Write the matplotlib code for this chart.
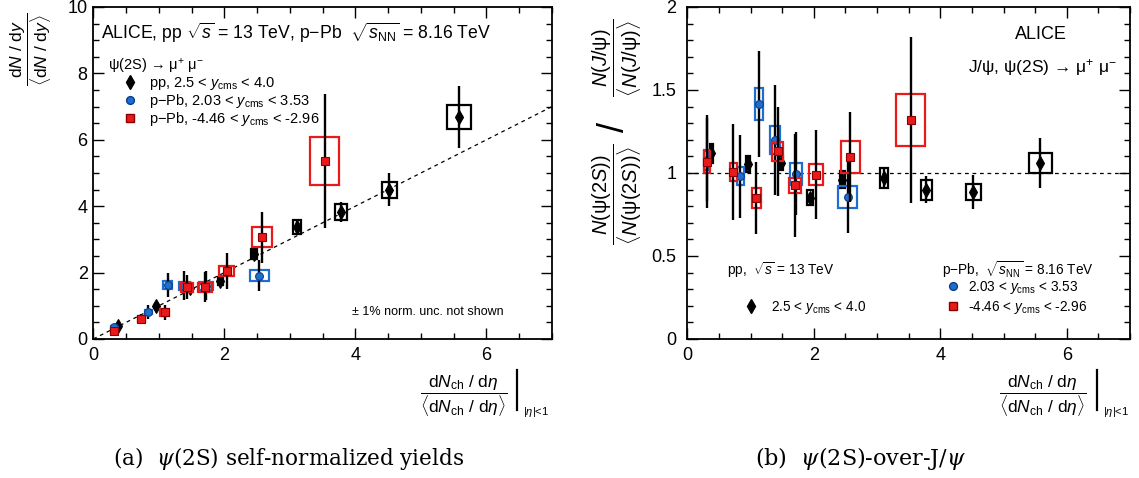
import matplotlib
matplotlib.use("Agg")
import matplotlib.pyplot as plt
from matplotlib.patches import Rectangle
from matplotlib.lines import Line2D
from matplotlib.ticker import MultipleLocator

plt.rcParams['font.family'] = ['Liberation Sans', 'DejaVu Sans']
plt.rcParams['mathtext.fontset'] = 'custom'
plt.rcParams['mathtext.rm'] = 'Liberation Sans'
plt.rcParams['mathtext.it'] = 'Liberation Sans:italic'
plt.rcParams['mathtext.bf'] = 'Liberation Sans:bold'

# ---------------- data ----------------
# pp 13 TeV, 2.5 < y < 4.0
pp_x = [0.38, 0.96, 1.48, 1.94, 2.45, 3.11, 3.78, 4.52, 5.58]
pp_xsys = [0.02, 0.025, 0.03, 0.04, 0.042, 0.062, 0.086, 0.118, 0.184]
pp_yield = [0.40, 1.00, 1.55, 1.76, 2.56, 3.37, 3.83, 4.50, 6.69]
pp_yield_stat = [0.08, 0.10, 0.10, 0.15, 0.15, 0.22, 0.30, 0.49, 0.93]
pp_yield_sys = [0.04, 0.06, 0.08, 0.12, 0.14, 0.20, 0.25, 0.24, 0.37]
pp_ratio = [1.12, 1.055, 1.06, 0.85, 0.96, 0.97, 0.90, 0.885, 1.06]
pp_ratio_stat = [0.06, 0.04, 0.03, 0.03, 0.04, 0.06, 0.08, 0.10, 0.15]
pp_ratio_sys = [0.057, 0.05, 0.04, 0.045, 0.05, 0.06, 0.06, 0.048, 0.058]

# p-Pb 8.16 TeV, forward 2.03 < y < 3.53
fw_x = [0.31, 0.84, 1.135, 1.387, 1.72, 2.535]
fw_xsys = [0.04, 0.053, 0.07, 0.085, 0.10, 0.15]
fw_yield = [0.35, 0.81, 1.63, 1.61, 1.61, 1.91]
fw_yield_stat = [0.07, 0.20, 0.36, 0.43, 0.45, 0.47]
fw_yield_sys = [0.05, 0.06, 0.125, 0.12, 0.12, 0.16]
fw_ratio = [1.08, 0.98, 1.415, 1.198, 0.995, 0.856]
fw_ratio_stat = [0.25, 0.25, 0.32, 0.33, 0.25, 0.22]
fw_ratio_sys = [0.06, 0.055, 0.095, 0.085, 0.065, 0.068]

# p-Pb 8.16 TeV, backward -4.46 < y < -2.96
bw_x = [0.315, 0.73, 1.09, 1.43, 1.705, 2.035, 2.58, 3.53]
bw_xsys = [0.045, 0.053, 0.07, 0.085, 0.10, 0.117, 0.153, 0.225]
bw_yield = [0.23, 0.60, 0.80, 1.56, 1.56, 2.05, 3.07, 5.36]
bw_yield_stat = [0.08, 0.16, 0.22, 0.36, 0.45, 0.55, 0.77, 2.03]
bw_yield_sys = [0.085, 0.10, 0.10, 0.13, 0.13, 0.145, 0.29, 0.71]
bw_ratio = [1.067, 1.007, 0.85, 1.13, 0.925, 0.99, 1.095, 1.32]
bw_ratio_stat = [0.28, 0.29, 0.215, 0.27, 0.31, 0.27, 0.27, 0.50]
bw_ratio_sys = [0.065, 0.055, 0.058, 0.055, 0.045, 0.062, 0.097, 0.156]

line_x = [0, 7]
ratio_ref = 1.0

BLUE = '#1e6ed2'
BLUE_DARK = '#0b3d86'
RED = '#ea1a1a'
RED_DARK = '#8a0000'

MS_D, MS_O, MS_S = 7, 5.6, 5.6

fig = plt.figure(figsize=(11.39, 4.78), dpi=100)
axL = fig.add_axes([0.0819, 0.2908, 0.4027, 0.6946])
axR = fig.add_axes([0.6034, 0.2908, 0.3887, 0.6946])


def draw(ax, x, xs, y, ys, st, color, edge, box, marker, ms, z):
    for xi, wi, yi, hi in zip(x, xs, y, ys):
        ax.add_patch(Rectangle((xi - wi, yi - hi), 2 * wi, 2 * hi, fill=False,
                               ec=box, lw=1.6, zorder=z))
    ax.errorbar(x, y, yerr=st, fmt=marker, ms=ms, mfc=color, mec=edge, mew=0.8,
                ecolor='black', elinewidth=1.7, capsize=0, zorder=z + 0.5)


def style(ax, ymaj, ymin, ypad):
    ax.set_xlim(0, 7)
    ax.xaxis.set_major_locator(MultipleLocator(2))
    ax.xaxis.set_minor_locator(MultipleLocator(0.5))
    ax.yaxis.set_major_locator(MultipleLocator(ymaj))
    ax.yaxis.set_minor_locator(MultipleLocator(ymin))
    ax.tick_params(which='both', direction='in', top=True, right=True,
                   labelsize=13, width=1.0)
    ax.tick_params(which='major', length=8)
    ax.tick_params(which='minor', length=4.5)
    ax.tick_params(axis='x', pad=6)
    ax.tick_params(axis='y', pad=ypad)
    for s in ax.spines.values():
        s.set_linewidth(1.3)


# ---------- left panel ----------
axL.plot(line_x, line_x, ls=(0, (3, 3)), color='black', lw=0.9, zorder=1)
draw(axL, pp_x, pp_xsys, pp_yield, pp_yield_sys, pp_yield_stat, 'black', 'black', 'black', 'd', MS_D, 2)
draw(axL, fw_x, fw_xsys, fw_yield, fw_yield_sys, fw_yield_stat, BLUE, BLUE_DARK, BLUE, 'o', MS_O, 3)
draw(axL, bw_x, bw_xsys, bw_yield, bw_yield_sys, bw_yield_stat, RED, RED_DARK, RED, 's', MS_S, 4)
axL.set_ylim(0, 10)
style(axL, 2, 0.5, 4)

axL.text(0.017, 0.922, r'ALICE, pp $\sqrt{s}$ = 13 TeV, p$-$Pb  $\sqrt{s_{\rm NN}}$ = 8.16 TeV',
         transform=axL.transAxes, fontsize=12.7, ha='left', va='center')
hL = [Line2D([], [], marker='d', ls='none', color='black', ms=MS_D),
      Line2D([], [], marker='o', ls='none', mfc=BLUE, mec=BLUE_DARK, ms=MS_O),
      Line2D([], [], marker='s', ls='none', mfc=RED, mec=RED_DARK, ms=MS_S)]
labL = [r'pp, 2.5 < $y_{\rm cms}$ < 4.0',
        r'p$-$Pb, 2.03 < $y_{\rm cms}$ < 3.53',
        r'p$-$Pb, -4.46 < $y_{\rm cms}$ < -2.96']
axL.text(0.032, 0.822, r'ψ(2S) → μ$^{+}$ μ$^{-}$', transform=axL.transAxes,
         fontsize=10.5, ha='left', va='center')
legL = axL.legend(hL, labL, loc='upper left',
                  bbox_to_anchor=(0.060, 0.796), frameon=False, fontsize=10.5,
                  borderpad=0, borderaxespad=0, handlelength=1.2,
                  handletextpad=0.75, labelspacing=0.02)
axL.text(0.565, 0.081, '± 1% norm. unc. not shown', transform=axL.transAxes,
         fontsize=9, ha='left', va='center')

# ---------- right panel ----------
axR.axhline(ratio_ref, ls=(0, (3, 3)), color='black', lw=0.9, zorder=1)
draw(axR, pp_x, pp_xsys, pp_ratio, pp_ratio_sys, pp_ratio_stat, 'black', 'black', 'black', 'd', MS_D, 2)
draw(axR, fw_x, fw_xsys, fw_ratio, fw_ratio_sys, fw_ratio_stat, BLUE, BLUE_DARK, BLUE, 'o', MS_O, 3)
draw(axR, bw_x, bw_xsys, bw_ratio, bw_ratio_sys, bw_ratio_stat, RED, RED_DARK, RED, 's', MS_S, 4)
axR.set_ylim(0, 2)
style(axR, 0.5, 0.1, 8)
axR.set_yticks([0, 0.5, 1, 1.5, 2])
axR.set_yticklabels(['0', '0.5', '1', '1.5', '2'])

axR.text(0.799, 0.916, 'ALICE', transform=axR.transAxes, fontsize=13,
         ha='center', va='center')
axR.text(0.9706, 0.819, r'J/ψ, ψ(2S) → μ$^{+}$ μ$^{-}$', transform=axR.transAxes,
         fontsize=12.5, ha='right', va='center')
axR.text(0.0897, 0.208, r'pp,  $\sqrt{s}$ = 13 TeV', transform=axR.transAxes,
         fontsize=9.8, ha='left', va='center')
legpp = axR.legend([hL[0]], [r'2.5 < $y_{\rm cms}$ < 4.0'], loc='center left',
                   bbox_to_anchor=(0.128, 0.096), frameon=False, fontsize=9.8,
                   borderpad=0, borderaxespad=0, handlelength=1.0, handletextpad=1.0)
axR.add_artist(legpp)
legpb = axR.legend(hL[1:], [r'2.03 < $y_{\rm cms}$ < 3.53', r'-4.46 < $y_{\rm cms}$ < -2.96'],
                   loc='upper left',
                   bbox_to_anchor=(0.585, 0.180), frameon=False, fontsize=9.8,
                   borderpad=0, borderaxespad=0, handlelength=1.0,
                   handletextpad=0.6, labelspacing=0.2)
axR.text(0.575, 0.208, r'p$-$Pb,  $\sqrt{s_{\rm NN}}$ = 8.16 TeV', transform=axR.transAxes,
         fontsize=9.8, ha='left', va='center')

# ---------- axis titles ----------
fig.text(31 / 1139, 1 - 49 / 478,
         r'$\dfrac{{\rm d}N\ /\ {\rm d}y}{\langle{\rm d}N\ /\ {\rm d}y\rangle}$',
         rotation=90, fontsize=12.5, ha='center', va='center')

fig.text(617 / 1139, 1 - 194 / 478,
         r'$\dfrac{N(\mathrm{\psi}(2S))}{\langle N(\mathrm{\psi}(2S))\rangle}$',
         rotation=90, fontsize=14.5, ha='center', va='center')
fig.text(615 / 1139, 1 - 127 / 478, '/', rotation=90, fontsize=26,
         ha='center', va='center')
fig.text(617 / 1139, 1 - 58 / 478,
         r'$\dfrac{N(J/\mathrm{\psi})}{\langle N(J/\mathrm{\psi})\rangle}$',
         rotation=90, fontsize=14.5, ha='center', va='center')

xlab = r'$\dfrac{{\rm d}N_{\rm ch}\ /\ {\rm d}\eta}{\langle{\rm d}N_{\rm ch}\ /\ {\rm d}\eta\rangle}$'
for cx, bx in [(464, 517), (1043, 1097)]:
    fig.text(cx / 1139, 1 - 396 / 478, xlab, fontsize=12.5, ha='center', va='center')
    fig.add_artist(Line2D([bx / 1139, bx / 1139], [1 - 370 / 478, 1 - 410 / 478],
                          color='black', lw=1.6, transform=fig.transFigure))
    fig.text((bx + 6) / 1139, 1 - 412 / 478, r'$|\eta|$<1', fontsize=8,
             ha='left', va='center')

# ---------- captions ----------
fig.text(113 / 1139, 1 - 458 / 478, r'(a)  $\psi$(2S) self-normalized yields',
         family='DejaVu Serif', math_fontfamily='dejavuserif', fontsize=15.5,
         ha='left', va='center')
fig.text(755 / 1139, 1 - 458 / 478, r'(b)  $\psi$(2S)-over-J/$\psi$',
         family='DejaVu Serif', math_fontfamily='dejavuserif', fontsize=16,
         ha='left', va='center')

fig.savefig('out.png', dpi=100)
